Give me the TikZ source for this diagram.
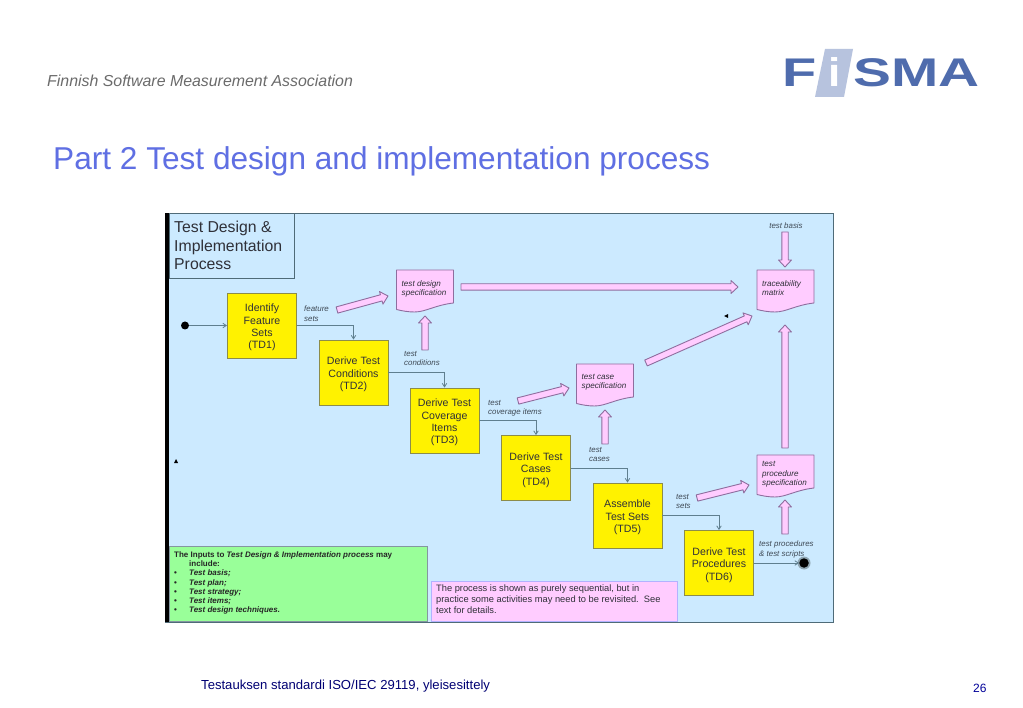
\documentclass[tikz,border=0pt]{standalone}
\usepackage{fontspec}
\setmainfont{Liberation Sans}
\usepackage{xcolor}
\usetikzlibrary{arrows.meta}
\usetikzlibrary{calc}
\definecolor{panelblue}{HTML}{CCEAFF}
\definecolor{panelline}{HTML}{4F6B78}
\definecolor{stepline}{HTML}{8C8C4A}
\definecolor{docpink}{HTML}{FFCCFF}
\definecolor{docline}{HTML}{8E6E9E}
\definecolor{flowcol}{HTML}{5F7F8F}
\definecolor{labelcol}{HTML}{3F4A55}
\definecolor{inkcol}{HTML}{2F3038}
\definecolor{titlecol}{HTML}{5F6FE3}
\definecolor{logocol}{HTML}{4F6CAD}
\definecolor{logolight}{HTML}{B7C3DE}
\definecolor{notegreen}{HTML}{99FF99}
\tikzset{>={Straight Barb[length=3.5pt,width=4.5pt]}}
\tikzset{
	stepbox/.style={draw=stepline,line width=0.9pt,fill=yellow,minimum width=69pt,minimum height=65pt,inner sep=0pt,align=center,text=inkcol},
	steptext/.style={inner sep=0pt,align=center,text=inkcol,font=\fontsize{10.6}{12.3}\selectfont},
	flowline/.style={draw=flowcol,line width=0.8pt,->},
	doctext/.style={anchor=north west,inner sep=0pt,align=left,text=inkcol,font=\fontsize{8.1}{9.2}\selectfont\itshape},
	smalllabel/.style={anchor=north west,inner sep=0pt,align=left,text=labelcol,font=\fontsize{7.9}{9.3}\selectfont\itshape},
	bigarrowline/.style={draw=docline,line width=0.9pt,fill=docpink,line join=round}
}
% paper-like page with a curved lower edge
\newcommand{\docsheet}[5][10]{
	\begin{scope}[shift={(#3,#4)}]
		\draw[bigarrowline] (0,0) -- (57,0) -- (57,33) .. controls (39,35) and (29,42) .. (18,42) .. controls (12,42) and (6,41) .. (0,39.5) -- cycle;
		\node[doctext] (#2) at (5,#1) {#5};
	\end{scope}
}
\newcommand{\bigarrow}[2]{
	\coordinate (headbase) at ($(#2)!7pt!(#1)$);
	\draw[bigarrowline] ($(#1)!3.2pt!90:(#2)$) -- ($(headbase)!3.2pt!-90:(#1)$) -- ($(headbase)!6.5pt!-90:(#1)$) -- (#2) -- ($(headbase)!6.5pt!90:(#1)$) -- ($(headbase)!3.2pt!90:(#1)$) -- ($(#1)!3.2pt!-90:(#2)$) -- cycle;
}
\begin{document}
\begin{tikzpicture}[x=1pt,y=-1pt]
	\useasboundingbox[fill=white] (0,0) rectangle (1023,708);
	
	% page header
	\node[anchor=base west,inner sep=0pt,text=black!58,font=\fontsize{15.9}{16}\selectfont\itshape] (assoc) at (47,86.5) {Finnish Software Measurement Association};
	\fill[logolight] (825,49) -- (853,49) -- (844,97) -- (815,97) -- cycle;
	\node[anchor=base west,inner sep=0pt,text=logocol,font=\fontsize{40}{40}\selectfont\bfseries] (logoF) at (782,87) {\scalebox{1.4}[1]{F}};
	\node[anchor=base,inner sep=0pt,text=white,font=\fontsize{40}{40}\selectfont\bfseries] (logoI) at (835,87) {\scalebox{1.1}[1]{i}};
	\node[anchor=base west,inner sep=0pt,text=logocol,font=\fontsize{40}{40}\selectfont\bfseries] (logoS) at (853,87) {\scalebox{1.42}[1]{SMA}};
	\node[anchor=base west,inner sep=0pt,text=titlecol,font=\fontsize{31.6}{36}\selectfont] (pagetitle) at (53,170) {Part 2 Test design and implementation process};
	
	% panel
	\draw[panelline,line width=0.8pt,fill=panelblue] (165,213) rectangle (833,622);
	\fill[black] (165,213) rectangle (169,622);
	\draw[panelline,line width=0.8pt] (169,213) rectangle (294,278);
	\node[anchor=north west,inner sep=0pt,align=left,text=inkcol,font=\fontsize{15.8}{18.5}\selectfont] (paneltitle) at (174,221) {Test Design \&\\Implementation\\Process};
	
	% process steps
	\foreach \nm/\x/\y/\txt in {td1/262/325.5/{Identify\\Feature\\Sets\\(TD1)},td2/353.5/372.5/{Derive Test\\Conditions\\(TD2)},td3/444.5/420.5/{Derive Test\\Coverage\\Items\\(TD3)},td4/536/468/{Derive Test\\Cases\\(TD4)},td5/627.5/515.5/{Assemble\\Test Sets\\(TD5)},td6/719/563/{Derive Test\\Procedures\\(TD6)}}
	{
		\node[stepbox] (\nm) at (\x,\y) {};
		\node[steptext] (\nm text) at (\x,\y+2) {\txt};
	}
	
	\node[circle,fill=black,inner sep=0pt,minimum size=8pt] (startdot) at (185,325.5) {};
	\node[circle,fill=flowcol!70,inner sep=0pt,minimum size=13pt] (endglow) at (804,563) {};
	\node[circle,fill=black,inner sep=0pt,minimum size=9.5pt] (enddot) at (804,563) {};
	
	\draw[flowline] (startdot) -- (td1);
	\draw[flowline] (td1.east) -| (td2.north);
	\draw[flowline] (td2.east) -| (td3.north);
	\draw[flowline] (td3.east) -| (td4.north);
	\draw[flowline] (td4.east) -| (td5.north);
	\draw[flowline] (td5.east) -| (td6.north);
	\draw[flowline] (td6.east) -- (enddot.west);
	
	% documents
	\docsheet{designspec}{396.5}{270}{test design\\specification}
	\docsheet{tracematrix}{757}{270}{traceability\\matrix}
	\docsheet{casespec}{576.5}{364}{test case\\specification}
	\docsheet[6.5]{procspec}{757}{455}{test\\procedure\\specification}
	
	% big arrows
	\coordinate (a1) at (337,310);
	\coordinate (b1) at (388,296);
	\coordinate (a2) at (461,287);
	\coordinate (b2) at (738,287);
	\coordinate (a3) at (425,350);
	\coordinate (b3) at (425,316);
	\coordinate (a4) at (785,232);
	\coordinate (b4) at (785,267);
	\coordinate (a5) at (646,363);
	\coordinate (b5) at (752,316);
	\coordinate (a6) at (518,401);
	\coordinate (b6) at (569,388);
	\coordinate (a7) at (605,444);
	\coordinate (b7) at (605,410);
	\coordinate (a8) at (785,448);
	\coordinate (b8) at (785,325);
	\coordinate (a9) at (697,498);
	\coordinate (b9) at (749,485);
	\coordinate (a10) at (785,534);
	\coordinate (b10) at (785,500);
	\foreach \i in {1,...,10}
	{
		\bigarrow{a\i}{b\i}
	}
	
	% labels
	\node[smalllabel] (lfeature) at (304,306) {feature\\sets};
	\node[smalllabel] (lcond) at (404,351) {test\\conditions};
	\node[smalllabel] (lcover) at (488,400) {test\\coverage items};
	\node[smalllabel] (lcases) at (589,447) {test\\cases};
	\node[smalllabel] (lsets) at (676,494) {test\\sets};
	\node[smalllabel] (lproc) at (759,541) {test procedures\\\& test scripts};
	\node[smalllabel,anchor=center] (lbasis) at (786,226) {test basis};
	
	% stray marks
	\fill[black] (724,316) -- (728,314) -- (728,318) -- cycle;
	\fill[black] (174,463) -- (176,459) -- (178,463) -- cycle;
	
	% notes
	\draw[panelline!70,line width=0.8pt,fill=notegreen] (169,546) rectangle (427,621);
	\node[anchor=north west,inner sep=0pt,align=left,text=black!85,font=\fontsize{8}{9.2}\selectfont\bfseries] (inputs) at (174,551.5) {The Inputs to \textit{Test Design \& Implementation process} may\\
		\hspace*{15pt}include:\\
		\makebox[15pt][l]{\textbullet}\textit{Test basis;}\\
		\makebox[15pt][l]{\textbullet}\textit{Test plan;}\\
		\makebox[15pt][l]{\textbullet}\textit{Test strategy;}\\
		\makebox[15pt][l]{\textbullet}\textit{Test items;}\\
		\makebox[15pt][l]{\textbullet}\textit{Test design techniques.}};
	\draw[blue!30!white,line width=0.8pt,fill=docpink] (431,581) rectangle (677,621);
	\node[anchor=north west,inner sep=0pt,align=left,text=inkcol,font=\fontsize{9.3}{10.8}\selectfont] (revisit) at (436,585) {The process is shown as purely sequential, but in\\practice some activities may need to be revisited.\ \ See\\text for details.};
	
	% page footer
	\node[anchor=base west,inner sep=0pt,text=blue!45!black,font=\fontsize{13.1}{14}\selectfont] (footer) at (201,689) {Testauksen standardi ISO/IEC 29119, yleisesittely};
	\node[anchor=base west,inner sep=0pt,text=blue!60!black,font=\fontsize{12}{14}\selectfont] (pagenum) at (973,692) {26};
\end{tikzpicture}
\end{document}
